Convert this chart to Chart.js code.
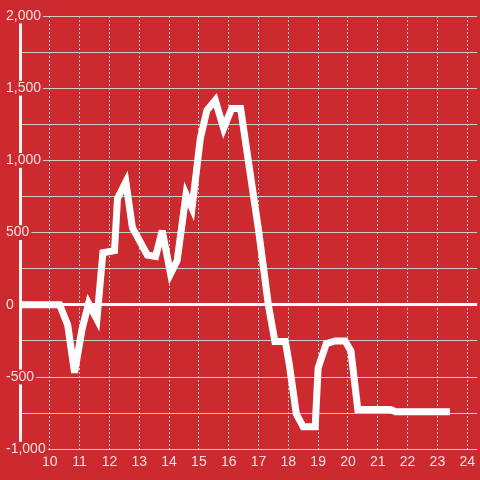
<!DOCTYPE html>
<html>
<head>
<meta charset="utf-8">
<script src="https://cdn.jsdelivr.net/npm/chart.js@4"></script>
<style>
  html, body { margin: 0; padding: 0; background: #cc2a2f; }
  #wrap { width: 480px; height: 480px; }
</style>
</head>
<body>
<div id="wrap"><canvas id="chart"></canvas></div>
<script>
// valeurs
const xValues = [8.88, 10.33, 10.6, 10.83, 11.08, 11.3, 11.58, 11.78, 12.17, 12.27, 12.55, 12.77,
  13.27, 13.55, 13.77, 14.05, 14.27, 14.57, 14.77, 15.05, 15.27, 15.55, 15.83, 16.1, 16.4,
  16.67, 17.0, 17.33, 17.55, 17.9, 18.03, 18.27, 18.5, 18.9, 19.0, 19.27, 19.57, 19.9, 20.1,
  20.33, 21.43, 21.6, 23.42];
const yValues = [0, 0, -140, -470, -170, 10, -100, 360, 375, 736, 850, 535,
  345, 335, 514, 215, 305, 765, 670, 1155, 1347, 1417, 1222, 1360, 1360,
  980, 520, 0, -255, -255, -410, -757, -845, -845, -437, -270, -250, -250, -320,
  -725, -725, -740, -740];
const xTicks = [10, 11, 12, 13, 14, 15, 16, 17, 18, 19, 20, 21, 22, 23, 24];
const yMin = -1000;
const yMax = 2000;
const yStep = 250;
const yLabelStep = 500;

const RED = '#cc2a2f';
const GRID = '#cccccc';
const TEXT = '#f2e0e0';
const FONT = { family: "'Liberation Sans', Arial, sans-serif", size: 14 };

const points = xValues.map((x, i) => ({ x: x, y: yValues[i] }));

// coins aigus coupés comme dans l'original
const miterPlugin = {
  id: 'miter',
  beforeDatasetsDraw(chart) { chart.ctx.miterLimit = 4; }
};

new Chart(document.getElementById('chart'), {
  type: 'line',
  data: {
    datasets: [{
      data: points,
      borderColor: '#ffffff',
      borderWidth: 7,
      pointRadius: 0,
      tension: 0,
      fill: false
    }]
  },
  options: {
    responsive: true,
    maintainAspectRatio: false,
    animation: false,
    layout: { padding: { left: 5, right: 0, top: 16, bottom: 4 } },
    plugins: { legend: { display: false }, tooltip: { enabled: false } },
    scales: {
      x: {
        type: 'linear',
        min: 9,
        max: 24.3333,
        afterBuildTicks: s => { s.ticks = xTicks.map(v => ({ value: v })); },
        ticks: { color: TEXT, font: FONT, padding: 5, maxRotation: 0, autoSkip: false },
        grid: { color: GRID, lineWidth: 1, drawTicks: false },
        border: { display: false, dash: [2, 2] }
      },
      y: {
        min: yMin,
        max: yMax,
        afterFit: s => { s.width = 15; },
        ticks: {
          stepSize: yStep,
          autoSkip: false,
          mirror: true,
          padding: -14,
          color: TEXT,
          font: FONT,
          callback: v => v % yLabelStep === 0 ? v.toLocaleString('en-US') : '',
          showLabelBackdrop: true,
          backdropColor: ctx => ctx.tick && ctx.tick.value % yLabelStep === 0 ? RED : 'rgba(0,0,0,0)',
          backdropPadding: { top: -1, bottom: -1, left: 1, right: 2 }
        },
        grid: {
          color: ctx => ctx.tick && ctx.tick.value === 0 ? '#ffffff' : GRID,
          lineWidth: ctx => ctx.tick && ctx.tick.value === 0 ? 3 : 1,
          drawTicks: false
        },
        border: { display: true, color: '#f4f4f4', width: 3 }
      }
    }
  },
  plugins: [miterPlugin]
});
</script>
</body>
</html>
